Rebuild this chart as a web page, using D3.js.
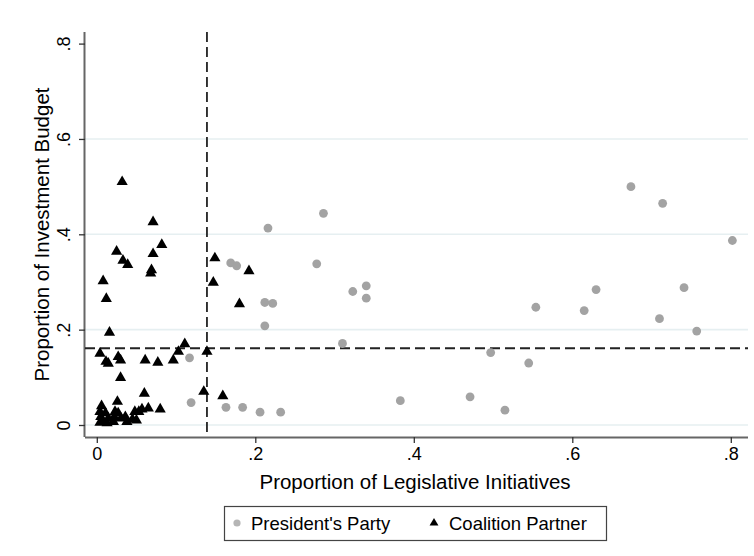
<!DOCTYPE html>
<html>
<head>
<meta charset="utf-8">
<script src="https://cdn.jsdelivr.net/npm/d3@7"></script>
<style>
  html, body { margin: 0; padding: 0; background: #fff; }
  svg text { font-family: "Liberation Sans", Arial, Helvetica, sans-serif; fill: #000; }
</style>
</head>
<body>
<svg id="chart" width="754" height="556"></svg>
<script>
// Tick values for both axes
const xTickValues = [0, 0.2, 0.4, 0.6, 0.8];
const yTickValues = [0, 0.2, 0.4, 0.6, 0.8];
const gridValues = [0, 0.2, 0.4, 0.6];

// President's party: share of legislative initiatives vs. share of investment budget
const presidentX = [0.117, 0.119, 0.163, 0.184, 0.206, 0.232, 0.286, 0.216, 0.169, 0.1765,
  0.2775, 0.323, 0.340, 0.340, 0.212, 0.222, 0.212, 0.310, 0.674, 0.714,
  0.802, 0.741, 0.630, 0.554, 0.615, 0.710, 0.757, 0.497, 0.545, 0.383,
  0.471, 0.515];
const presidentY = [0.141, 0.047, 0.037, 0.037, 0.027, 0.027, 0.444, 0.413, 0.340, 0.334,
  0.338, 0.280, 0.292, 0.266, 0.257, 0.255, 0.208, 0.171, 0.500, 0.465,
  0.387, 0.288, 0.284, 0.247, 0.240, 0.223, 0.197, 0.152, 0.130, 0.051,
  0.059, 0.031];

// Coalition partners
const coalitionX = [0.032, 0.071, 0.025, 0.033, 0.039, 0.082, 0.071, 0.069, 0.068, 0.008,
  0.012, 0.016, 0.149, 0.147, 0.192, 0.180,
  0.004, 0.0116, 0.0145, 0.027, 0.030, 0.030, 0.061, 0.077, 0.0965, 0.103,
  0.111, 0.139, 0.135, 0.159,
  0.060, 0.026, 0.006, 0.004, 0.005, 0.008, 0.004, 0.011, 0.0145, 0.023,
  0.022, 0.027, 0.0305, 0.036, 0.038, 0.021, 0.050, 0.048, 0.053, 0.057,
  0.065, 0.080, 0.013, 0.045];
const coalitionY = [0.510, 0.426, 0.364, 0.345, 0.336, 0.378, 0.359, 0.325, 0.318, 0.302,
  0.265, 0.194, 0.350, 0.299, 0.323, 0.254,
  0.150, 0.133, 0.129, 0.143, 0.136, 0.099, 0.136, 0.131, 0.136, 0.154,
  0.170, 0.154, 0.070, 0.061,
  0.066, 0.049, 0.040, 0.028, 0.017, 0.007, 0.005, 0.025, 0.014, 0.028,
  0.017, 0.025, 0.014, 0.017, 0.007, 0.007, 0.010, 0.028, 0.028, 0.033,
  0.035, 0.033, 0.004, 0.012];

// Reference lines (sample means)
const meanInitiatives = 0.139;
const meanBudget = 0.161;

const seriesNames = ["President's Party", "Coalition Partner"];

const svg = d3.select("#chart");

// Plot region
const plot = { left: 85, right: 748, top: 32, bottom: 437 };

const x = d3.scaleLinear().domain([0, 0.8]).range([96.8, 730.8]);
const y = d3.scaleLinear().domain([0, 0.8]).range([425, 43.6]);

const fmt = d => d === 0 ? "0" : d3.format(".1f")(d).replace(/^0/, "");

// Horizontal grid lines
svg.append("g")
  .selectAll("line")
  .data(gridValues)
  .join("line")
  .attr("x1", plot.left).attr("x2", plot.right)
  .attr("y1", d => y(d)).attr("y2", d => y(d))
  .attr("stroke", "#e6eff1")
  .attr("stroke-width", 1.6);

// Axes
const xAxis = svg.append("g")
  .attr("transform", `translate(0,${plot.bottom})`)
  .call(d3.axisBottom(x).tickValues(xTickValues).tickFormat(fmt).tickSize(6).tickPadding(4).tickSizeOuter(0));
xAxis.select(".domain").attr("d", `M${plot.left},0.5H${plot.right}`).attr("stroke", "#666").attr("stroke-width", 2);
xAxis.selectAll(".tick line").attr("stroke", "#333").attr("stroke-width", 1.3);
xAxis.selectAll(".tick text")
  .attr("font-size", 18)
  .attr("dy", "0.72em")
  .attr("y", 10);

const yAxis = svg.append("g")
  .attr("transform", `translate(${plot.left},0)`)
  .call(d3.axisLeft(y).tickValues(yTickValues).tickFormat(fmt).tickSize(6).tickSizeOuter(0));
yAxis.select(".domain").attr("d", `M-0.5,${plot.top}V${plot.bottom}`).attr("stroke", "#666").attr("stroke-width", 2);
yAxis.selectAll(".tick line").attr("stroke", "#333").attr("stroke-width", 1.3);
yAxis.selectAll(".tick text")
  .attr("font-size", 18)
  .attr("x", null).attr("dy", null)
  .attr("text-anchor", "middle")
  .attr("transform", "translate(-15,0) rotate(-90)");

// Reference lines
svg.append("line")
  .attr("x1", x(meanInitiatives)).attr("x2", x(meanInitiatives))
  .attr("y1", plot.top).attr("y2", plot.bottom)
  .attr("stroke", "#222").attr("stroke-width", 1.8)
  .attr("stroke-dasharray", "10,5");
svg.append("line")
  .attr("x1", plot.left).attr("x2", plot.right)
  .attr("y1", y(meanBudget)).attr("y2", y(meanBudget))
  .attr("stroke", "#222").attr("stroke-width", 1.8)
  .attr("stroke-dasharray", "10,5");

// Points
const presidentData = presidentX.map((v, i) => ({ x: v, y: presidentY[i] }));
const coalitionData = coalitionX.map((v, i) => ({ x: v, y: coalitionY[i] }));

const circleR = 4.4;
const triangle = d3.symbol().type(d3.symbolTriangle).size(54);

svg.append("g")
  .selectAll("circle")
  .data(presidentData)
  .join("circle")
  .attr("cx", d => x(d.x)).attr("cy", d => y(d.y))
  .attr("r", circleR)
  .attr("fill", "#a3a3a3");

svg.append("g")
  .selectAll("path")
  .data(coalitionData)
  .join("path")
  .attr("d", triangle)
  .attr("transform", d => `translate(${x(d.x)},${y(d.y)})`)
  .attr("fill", "#000");

// Axis titles
svg.append("text")
  .attr("x", 415).attr("y", 489)
  .attr("text-anchor", "middle")
  .attr("font-size", 20.5)
  .text("Proportion of Legislative Initiatives");

svg.append("text")
  .attr("transform", `translate(49,${(plot.top + plot.bottom) / 2}) rotate(-90)`)
  .attr("text-anchor", "middle")
  .attr("font-size", 20.5)
  .text("Proportion of Investment Budget");

// Legend
const legend = svg.append("g");
legend.append("rect")
  .attr("x", 224.5).attr("y", 506.5)
  .attr("width", 382).attr("height", 34)
  .attr("fill", "#fff").attr("stroke", "#444").attr("stroke-width", 1.2);

legend.append("circle")
  .attr("cx", 237).attr("cy", 523)
  .attr("r", 3.6)
  .attr("fill", "#b5b5b5");
legend.append("text")
  .attr("x", 251).attr("y", 529.5)
  .attr("font-size", 18.5)
  .text(seriesNames[0]);

legend.append("path")
  .attr("d", d3.symbol().type(d3.symbolTriangle).size(34))
  .attr("transform", "translate(434,523)")
  .attr("fill", "#000");
legend.append("text")
  .attr("x", 449).attr("y", 529.5)
  .attr("font-size", 18.5)
  .text(seriesNames[1]);
</script>
</body>
</html>
